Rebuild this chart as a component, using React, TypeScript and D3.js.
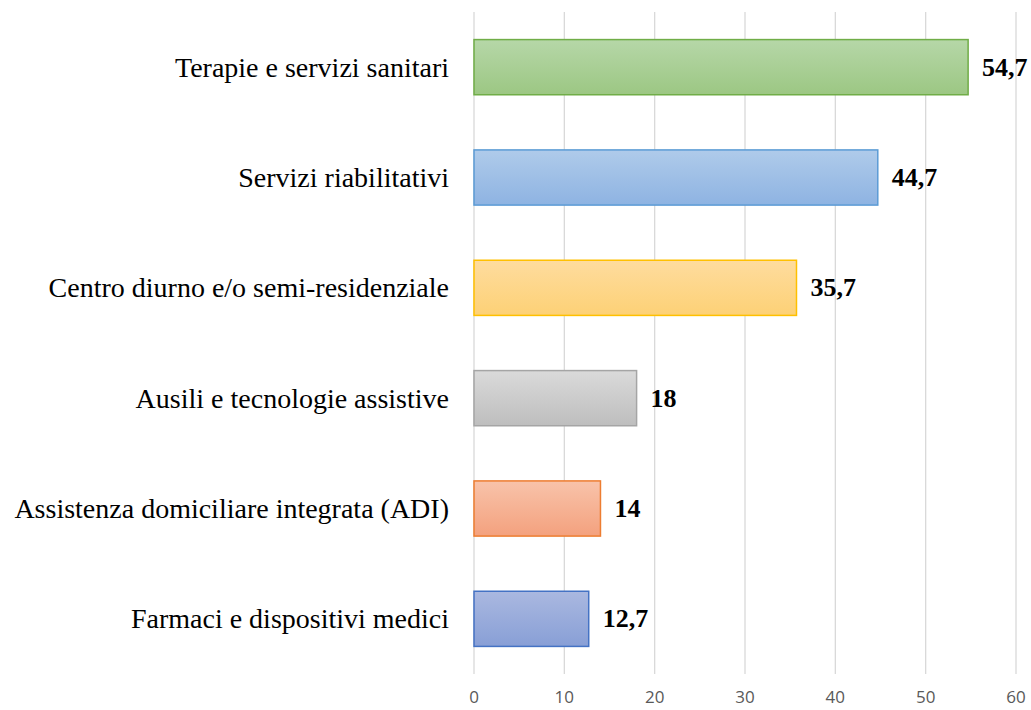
import React from "react";
import * as d3 from "d3";

const categories = [
  "Terapie e servizi sanitari",
  "Servizi riabilitativi",
  "Centro diurno e/o semi-residenziale",
  "Ausili e tecnologie assistive",
  "Assistenza domiciliare integrata (ADI)",
  "Farmaci e dispositivi medici",
];
const values = [54.7, 44.7, 35.7, 18, 14, 12.7];
const valueLabels = ["54,7", "44,7", "35,7", "18", "14", "12,7"];
const xTicks = [0, 10, 20, 30, 40, 50, 60];
const fillTop = ["#b6d7a8", "#afcbea", "#fedc9e", "#dadada", "#f8c3aa", "#aab8e0"];
const fillBottom = ["#9cc783", "#8eb3e2", "#fdd176", "#bebebe", "#f4a17e", "#889fd6"];
const strokes = ["#70ad47", "#5b9bd5", "#ffc000", "#a5a5a5", "#ed7d31", "#4472c4"];

const W = 1031;
const H = 710;
const left = 474;
const right = 1016;
const top = 12;
const bottom = 674;

export default function App() {
  const x = d3.scaleLinear().domain([0, 60]).range([left, right]);
  const y = d3.scaleBand().domain(categories).range([top, bottom]).paddingInner(0.5).paddingOuter(0.25);
  return (
    <svg width={W} height={H} style={{ position: "absolute", left: 0, top: 0 }}>
      <defs>
        {categories.map((c, i) => (
          <linearGradient key={i} id={`g${i}`} x1="0" y1="0" x2="0" y2="1">
            <stop offset="0%" stopColor={fillTop[i]} />
            <stop offset="100%" stopColor={fillBottom[i]} />
          </linearGradient>
        ))}
      </defs>
      <rect x={0} y={0} width={W} height={H} fill="#fff" />
      {xTicks.map((t) => (
        <g key={t}>
          <line x1={x(t)} x2={x(t)} y1={top} y2={bottom} stroke="#d9d9d9" strokeWidth={1.3} />
          <text
            x={x(t)}
            y={696}
            textAnchor="middle"
            dominantBaseline="central"
            fontFamily="'Open Sans', 'Liberation Sans', sans-serif"
            fontSize={17}
            fill="#595959"
          >
            {t}
          </text>
        </g>
      ))}
      {categories.map((c, i) => {
        const y0 = y(c)!;
        const bw = y.bandwidth();
        return (
          <g key={c}>
            <rect
              x={x(0)}
              y={y0}
              width={x(values[i]) - x(0)}
              height={bw}
              fill={`url(#g${i})`}
              stroke={strokes[i]}
              strokeWidth={1.5}
            />
            <text
              x={449}
              y={y0 + bw / 2}
              textAnchor="end"
              dominantBaseline="central"
              fontFamily="'Liberation Serif', 'Times New Roman', serif"
              fontSize={28}
              fill="#000"
            >
              {c}
            </text>
            <text
              x={x(values[i]) + 14}
              y={y0 + bw / 2}
              textAnchor="start"
              dominantBaseline="central"
              fontFamily="'Liberation Serif', 'Times New Roman', serif"
              fontSize={26}
              fontWeight="bold"
              fill="#000"
            >
              {valueLabels[i]}
            </text>
          </g>
        );
      })}
    </svg>
  );
}
